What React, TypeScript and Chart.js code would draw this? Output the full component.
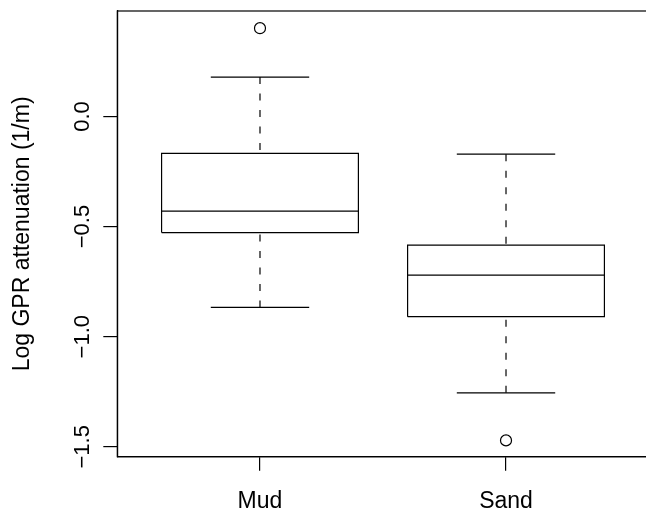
import React, { useEffect, useRef } from "react";
import { Chart, registerables } from "chart.js";

Chart.register(...registerables);

// ---- data ----
const categories = ["Mud", "Sand"];
const lowerWhisker = [-0.867, -1.255];
const q1 = [-0.527, -0.909];
const median = [-0.43, -0.72];
const q3 = [-0.168, -0.584];
const upperWhisker = [0.179, -0.171];
const outliers = [[0.401], [-1.471]];
const yTicks = [-1.5, -1.0, -0.5, 0.0];
const yTickLabels = ["\u22121.5", "\u22121.0", "\u22120.5", "0.0"];
const yTitle = "Log GPR attenuation (1/m)";

const FAMILY = '"Liberation Sans", Arial, Helvetica, sans-serif';
const LABEL_FONT = "23px " + FAMILY;
const TICK_FONT = "22px " + FAMILY;
const LW = 1.2;
const BOX_HALF = 0.4;
const CAP_HALF = 0.2;

const textPlugin = {
  id: "rText",
  afterDraw(chart: any) {
    const { ctx, chartArea, scales } = chart;
    const xs = scales.x;
    const ys = scales.y;
    ctx.save();
    ctx.strokeStyle = "#000";
    ctx.lineWidth = LW;
    ctx.strokeRect(
      chartArea.left,
      chartArea.top,
      chartArea.right - chartArea.left,
      chartArea.bottom - chartArea.top
    );
    ctx.fillStyle = "#000";
    ctx.textAlign = "center";
    ctx.textBaseline = "alphabetic";
    ctx.font = LABEL_FONT;
    categories.forEach((c, i) => {
      ctx.fillText(c, xs.getPixelForValue(i + 1), 508);
    });
    ctx.font = TICK_FONT;
    yTicks.forEach((v, i) => {
      ctx.save();
      ctx.translate(88.5, ys.getPixelForValue(v));
      ctx.rotate(-Math.PI / 2);
      ctx.fillText(yTickLabels[i], 0, 0);
      ctx.restore();
    });
    ctx.font = LABEL_FONT;
    ctx.save();
    ctx.translate(28.5, (chartArea.top + chartArea.bottom) / 2);
    ctx.rotate(-Math.PI / 2);
    ctx.fillText(yTitle, 0, 0);
    ctx.restore();
    ctx.restore();
  },
};

function lineDs(data: { x: number; y: number }[], dash: number[] = []) {
  return {
    type: "scatter" as const,
    data,
    showLine: true,
    borderColor: "#000",
    borderWidth: LW,
    borderDash: dash,
    pointRadius: 0,
    pointHoverRadius: 0,
    fill: false,
    tension: 0,
  };
}

export default function App() {
  const ref = useRef<HTMLCanvasElement | null>(null);
  useEffect(() => {
    if (!ref.current) return;
    const datasets: any[] = [];
    categories.forEach((_, i) => {
      const px = i + 1;
      datasets.push(
        lineDs([
          { x: px - BOX_HALF, y: q1[i] },
          { x: px + BOX_HALF, y: q1[i] },
          { x: px + BOX_HALF, y: q3[i] },
          { x: px - BOX_HALF, y: q3[i] },
          { x: px - BOX_HALF, y: q1[i] },
        ])
      );
      datasets.push(
        lineDs([
          { x: px - BOX_HALF, y: median[i] },
          { x: px + BOX_HALF, y: median[i] },
        ])
      );
      datasets.push(
        lineDs(
          [
            { x: px, y: upperWhisker[i] },
            { x: px, y: q3[i] },
          ],
          [7, 9.5]
        )
      );
      datasets.push(
        lineDs(
          [
            { x: px, y: lowerWhisker[i] },
            { x: px, y: q1[i] },
          ],
          [7, 9.5]
        )
      );
      datasets.push(
        lineDs([
          { x: px - CAP_HALF, y: upperWhisker[i] },
          { x: px + CAP_HALF, y: upperWhisker[i] },
        ])
      );
      datasets.push(
        lineDs([
          { x: px - CAP_HALF, y: lowerWhisker[i] },
          { x: px + CAP_HALF, y: lowerWhisker[i] },
        ])
      );
      datasets.push({
        type: "scatter",
        data: outliers[i].map((v) => ({ x: px, y: v })),
        pointStyle: "circle",
        pointRadius: 5.5,
        pointBorderWidth: LW,
        pointBorderColor: "#000",
        pointBackgroundColor: "rgba(0,0,0,0)",
        borderColor: "#000",
        backgroundColor: "rgba(0,0,0,0)",
        showLine: false,
      });
    });

    const gridCfg = {
      display: true,
      drawOnChartArea: false,
      drawTicks: true,
      tickLength: 14,
      color: "#000",
      lineWidth: LW,
    };

    const chart = new Chart(ref.current, {
      type: "scatter",
      data: { datasets },
      plugins: [textPlugin],
      options: {
        animation: false,
        responsive: false,
        devicePixelRatio: 1,
        layout: { padding: { left: 0, top: 11, right: 11.3, bottom: 0 } },
        plugins: { legend: { display: false }, tooltip: { enabled: false } },
        events: [],
        scales: {
          x: {
            type: "linear",
            min: 0.42,
            max: 2.58,
            grid: gridCfg,
            border: { display: true, color: "#000", width: LW },
            ticks: { display: false },
            afterBuildTicks: (s: any) => {
              s.ticks = categories.map((_, i) => ({ value: i + 1 }));
            },
            afterFit: (s: any) => {
              s.height = 53.3;
            },
          },
          y: {
            type: "linear",
            min: -1.545,
            max: 0.479,
            grid: gridCfg,
            border: { display: true, color: "#000", width: LW },
            ticks: { display: false },
            afterBuildTicks: (s: any) => {
              s.ticks = yTicks.map((v) => ({ value: v }));
            },
            afterFit: (s: any) => {
              s.width = 117.3;
            },
          },
        },
      } as any,
    });
    return () => chart.destroy();
  }, []);

  return (
    <div
      style={{
        position: "absolute",
        left: 0,
        top: 0,
        width: 646,
        height: 510,
        overflow: "hidden",
        background: "#fff",
      }}
    >
      <canvas ref={ref} width={660} height={510} style={{ display: "block" }} />
    </div>
  );
}
